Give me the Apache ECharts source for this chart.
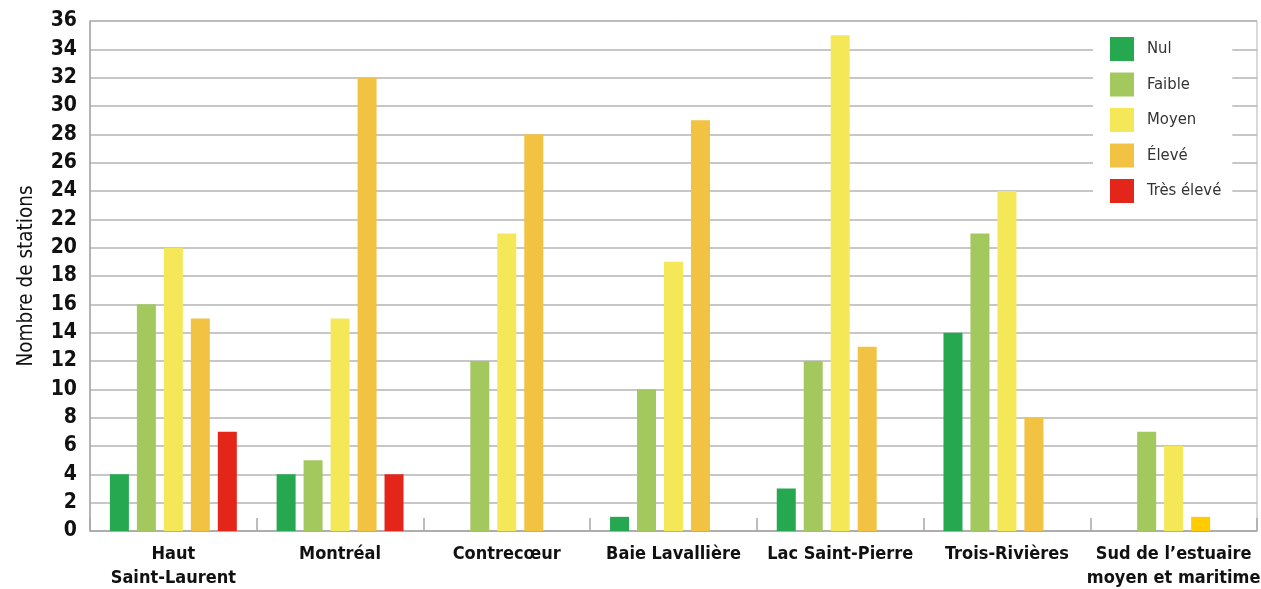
<!DOCTYPE html>
<html>
<head>
<meta charset="utf-8">
<script src="https://cdn.jsdelivr.net/npm/echarts@6/dist/echarts.min.js"></script>
<style>
  html, body { margin: 0; padding: 0; background: #fff; }
  #chart { width: 1261px; height: 589px; }
</style>
</head>
<body>
<div id="chart"></div>
<script>
// Régions du fleuve
const categories = [
  'Haut\nSaint-Laurent',
  'Montréal',
  'Contrecœur',
  'Baie Lavallière',
  'Lac Saint-Pierre',
  'Trois-Rivières',
  'Sud de l\u2019estuaire\nmoyen et maritime'
];

// Nombre de stations par niveau (null = aucune station)
const nul      = [4, 4, null, 1, 3, 14, null];
const faible   = [16, 5, 12, 10, 12, 21, 7];
const moyen    = [20, 15, 21, 19, 35, 24, 6];
const eleve    = [15, 32, 28, 29, 13, 8, 1];
const tresEleve = [7, 4, null, null, null, null, null];

const yTicks = { min: 0, max: 36, interval: 2 };

const FONT = '"DejaVu Sans Condensed", "Liberation Sans Narrow", sans-serif';

const chart = echarts.init(document.getElementById('chart'), null, { renderer: 'canvas' });

function bar(name, data, color) {
  return {
    name, type: 'bar', data,
    barWidth: 19, barGap: '42%',
    itemStyle: { color },
    emphasis: { disabled: true }
  };
}

// Le dernier bâton « Élevé » de l'estuaire est dessiné en jaune or
const eleveData = eleve.map((v, i) =>
  i === eleve.length - 1 ? { value: v, itemStyle: { color: '#FFCC00' } } : v);

chart.setOption({
  animation: false,
  textStyle: { fontFamily: FONT },
  grid: {
    left: 90, right: 4, top: 21, bottom: 58,
    outerBoundsMode: 'none',
    containLabel: false,
    show: true, borderColor: '#b4b4b4', borderWidth: 1
  },
  legend: {
    orient: 'vertical',
    left: 1093, top: 23,
    padding: [14, 11, 8, 17],
    backgroundColor: '#fff',
    itemWidth: 24, itemHeight: 24, itemGap: 11.5,
    icon: 'rect',
    textStyle: { fontFamily: FONT, fontSize: 16.5, color: '#333', padding: [0, 0, 0, 8] },
    data: ['Nul', 'Faible', 'Moyen', 'Élevé', 'Très élevé']
  },
  xAxis: {
    type: 'category',
    data: categories,
    axisLine: { lineStyle: { color: '#a8a8a8', width: 1.5 } },
    axisTick: { show: true, inside: true, length: 13, lineStyle: { color: '#a8a8a8', width: 1.5 } },
    axisLabel: {
      interval: 0, margin: 11,
      fontFamily: FONT, fontSize: 18, fontWeight: 'bold', color: '#111',
      lineHeight: 24
    }
  },
  yAxis: {
    type: 'value',
    min: yTicks.min, max: yTicks.max, interval: yTicks.interval,
    name: 'Nombre de stations',
    nameLocation: 'middle',
    nameGap: 53,
    nameTextStyle: { fontFamily: FONT, fontSize: 20.5, color: '#111' },
    axisLine: { show: true, lineStyle: { color: '#a8a8a8', width: 1.5 } },
    axisTick: { show: false },
    axisLabel: { margin: 13, fontFamily: FONT, fontSize: 21, fontWeight: 'bold', color: '#111' },
    splitLine: { lineStyle: { color: '#b4b4b4', width: 1.5 } }
  },
  series: [
    bar('Nul', nul, '#25A84F'),
    bar('Faible', faible, '#A3C85E'),
    bar('Moyen', moyen, '#F4E858'),
    bar('Élevé', eleveData, '#F2C242'),
    bar('Très élevé', tresEleve, '#E32619')
  ]
});
</script>
</body>
</html>
